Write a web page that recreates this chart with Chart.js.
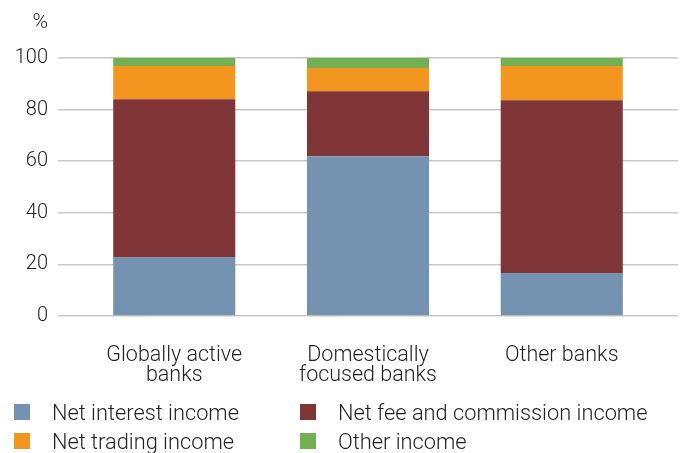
<!DOCTYPE html>
<html lang="en">
<head>
<meta charset="UTF-8">
<title>Income composition by bank type</title>
<script src="https://cdn.jsdelivr.net/npm/chart.js"></script>
<style>
    body { margin: 0; background: #fff; font-family: 'Roboto', sans-serif; }
    .wrap { position: relative; width: 686px; height: 453px; }
    #legend {
        position: absolute; left: 14px; top: 402px;
        display: grid; grid-template-columns: 286px 380px; row-gap: 9px;
        font-family: 'Roboto', sans-serif; font-weight: 300; font-size: 21.8px; color: #231f20;
    }
    .item { display: flex; align-items: center; height: 20px; white-space: nowrap; }
    .sw { width: 16px; height: 16px; margin-right: 22px; }
</style>
</head>
<body>
<div class="wrap">
    <canvas id="chart" width="686" height="453"></canvas>
    <div id="legend"></div>
</div>
<script>
// categories (label lines) and series values in %
const categories = [['Globally active', 'banks'], ['Domestically', 'focused banks'], ['Other banks']];
const netInterest = [22.9, 61.9, 16.7];
const netFee = [61.1, 25.2, 66.9];
const netTrading = [12.9, 9.0, 13.3];
const otherIncome = [3.1, 3.9, 3.1];
const yTicks = [0, 20, 40, 60, 80, 100];

const series = [
    { label: 'Net interest income', values: netInterest, color: '#7393b1' },
    { label: 'Net fee and commission income', values: netFee, color: '#803537' },
    { label: 'Net trading income', values: netTrading, color: '#f3961f' },
    { label: 'Other income', values: otherIncome, color: '#72b054' }
];

const font = { family: 'Roboto', weight: 300, size: 20 };

// unit label above the y axis
const percentSign = {
    id: 'percentSign',
    afterDraw(chart) {
        const y = chart.scales.y;
        const ctx = chart.ctx;
        ctx.save();
        ctx.font = '300 21px Roboto';
        ctx.fillStyle = '#231f20';
        ctx.textAlign = 'right';
        ctx.textBaseline = 'middle';
        ctx.fillText('%', y.right - 10, y.top - 35);
        ctx.restore();
    }
};

new Chart(document.getElementById('chart'), {
    type: 'bar',
    data: {
        datasets: series.map(s => ({
            label: s.label,
            data: s.values.map((v, i) => ({ x: i, y: v })),
            backgroundColor: s.color,
            borderWidth: 0,
            categoryPercentage: 1,
            barPercentage: 0.63
        }))
    },
    options: {
        responsive: false,
        animation: false,
        layout: { padding: { top: 58, right: 8, left: 0, bottom: 0 } },
        plugins: { legend: { display: false }, tooltip: { enabled: false } },
        scales: {
            x: {
                type: 'linear',
                stacked: true,
                offset: false,
                min: -0.6,
                max: 2.6,
                grid: { display: false },
                border: { display: false },
                afterBuildTicks: s => { s.ticks = categories.map((c, i) => ({ value: i })); },
                afterFit: s => { s.height = 137; },
                ticks: {
                    padding: 22,
                    maxRotation: 0,
                    autoSkip: false,
                    color: '#231f20',
                    font: { family: 'Roboto', weight: 300, size: 21.5, lineHeight: 0.92 },
                    callback: v => categories[v]
                }
            },
            y: {
                stacked: true,
                min: 0,
                max: 100,
                afterBuildTicks: s => { s.ticks = yTicks.map(v => ({ value: v })); },
                afterFit: s => { s.width = 58; },
                grid: { color: '#c8c8c8', lineWidth: 1.5, drawTicks: false },
                border: { display: false },
                ticks: { padding: 10, color: '#231f20', font }
            }
        }
    },
    plugins: [percentSign]
});

document.getElementById('legend').innerHTML = [0, 1, 2, 3].map(i =>
    `<div class="item"><span class="sw" style="background:${series[i].color}"></span>${series[i].label}</div>`
).join('');
</script>
</body>
</html>
